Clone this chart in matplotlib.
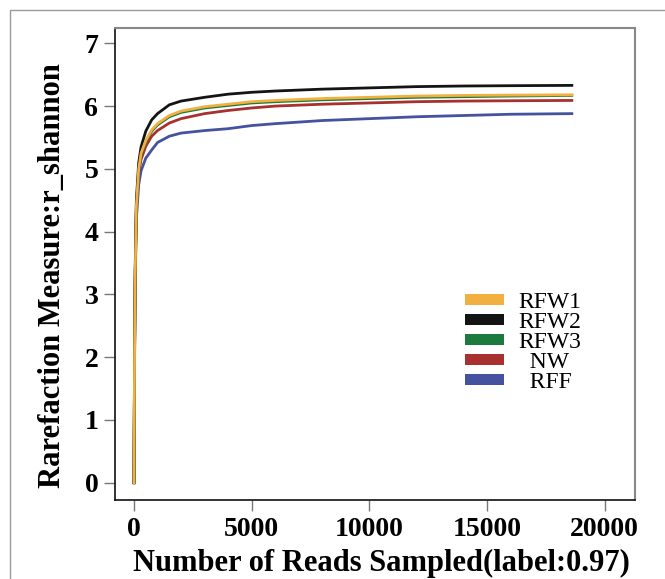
import matplotlib
matplotlib.use("Agg")
import matplotlib.pyplot as plt
from matplotlib.patches import Patch, Rectangle

# ---- data ----
reads = [0, 25, 50, 100, 200, 300, 500, 750, 1000, 1500, 2000, 3000, 4000,
         5000, 6000, 8000, 10000, 12000, 14000, 16000, 18600]
rfw1 = [0, 2.1, 3.3, 4.4, 5.0, 5.25, 5.45, 5.62, 5.72, 5.85, 5.92, 5.99, 6.03,
        6.07, 6.09, 6.12, 6.14, 6.16, 6.17, 6.175, 6.18]
rfw2 = [0, 2.2, 3.4, 4.5, 5.1, 5.35, 5.6, 5.78, 5.88, 6.02, 6.08, 6.14, 6.19,
        6.22, 6.24, 6.27, 6.29, 6.31, 6.32, 6.325, 6.33]
rfw3 = [0, 2.1, 3.3, 4.4, 4.98, 5.23, 5.43, 5.6, 5.7, 5.83, 5.9, 5.97, 6.01,
        6.05, 6.07, 6.10, 6.12, 6.14, 6.15, 6.16, 6.17]
nw = [0, 2.05, 3.25, 4.35, 4.93, 5.15, 5.36, 5.52, 5.61, 5.73, 5.8, 5.88, 5.93,
      5.97, 6.00, 6.03, 6.05, 6.07, 6.08, 6.085, 6.09]
rff = [0, 1.95, 3.1, 4.2, 4.75, 4.97, 5.17, 5.3, 5.42, 5.52, 5.57, 5.61, 5.64,
       5.69, 5.72, 5.77, 5.80, 5.83, 5.85, 5.87, 5.88]
labels = ["RFW1", "RFW2", "RFW3", "  NW", "  RFF"]
colors = ["#F2B040", "#141414", "#1B7A3E", "#A8302E", "#4452A0"]
series = [rfw1, rfw2, rfw3, nw, rff]
xticks = [0, 5000, 10000, 15000, 20000]
yticks = [0, 1, 2, 3, 4, 5, 6, 7]

SERIF = ["Liberation Serif", "DejaVu Serif"]

fig = plt.figure(figsize=(6.65, 5.79), dpi=100)
ax = fig.add_axes([115/665, 1-500/579, 520/665, 472/579])

# outer light frame
fig.patches.append(Rectangle((10/665, -0.1), 1.2, 1-10/579+0.1,
                             transform=fig.transFigure, fill=False,
                             edgecolor="#999999", linewidth=1.0))

order = [4, 3, 2, 1, 0]
for i in order:
    ax.plot(reads, series[i], color=colors[i], linewidth=2.0, zorder=2 + (5-i))

ax.set_xlim(-807, 21283)
ax.set_ylim(-0.275, 7.244)
ax.set_xticks(xticks)
ax.set_yticks(yticks)
ax.set_xticklabels([str(v) for v in xticks], fontfamily=SERIF,
                   fontweight="bold", fontsize=20)
ax.set_yticklabels([str(v) for v in yticks], fontfamily=SERIF,
                   fontweight="bold", fontsize=20)
ax.tick_params(direction="out", length=8, width=1, color="#777777", pad=4)

for s in ["left", "bottom"]:
    ax.spines[s].set_color("#111111")
    ax.spines[s].set_linewidth(1.2)
for s in ["top", "right"]:
    ax.spines[s].set_color("#888888")
    ax.spines[s].set_linewidth(1.5)

ax.set_xlabel("Number of Reads Sampled(label:0.97)", fontfamily=SERIF,
              fontweight="bold", fontsize=22)
ax.set_ylabel("Rarefaction Measure:r_shannon", fontfamily=SERIF,
              fontweight="bold", fontsize=22)
ax.xaxis.set_label_coords(0.512, -0.104)
ax.yaxis.set_label_coords(-0.092, 0.475)

handles = [Patch(facecolor=c, edgecolor="none") for c in colors]
leg = ax.legend(handles, labels, loc="upper left",
                bbox_to_anchor=(0.673, 0.441), frameon=False,
                prop={"family": SERIF, "size": 17},
                handlelength=1.65, handleheight=0.3, handletextpad=0.6,
                labelspacing=-0.04, borderpad=0, borderaxespad=0)

fig.savefig("out.png", dpi=100)
